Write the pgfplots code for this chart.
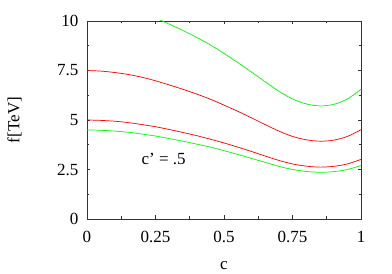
\documentclass[border=0pt]{standalone}
\usepackage{fontspec}
\setmainfont{Liberation Serif}
\newfontfamily\tnr{Liberation Serif}
\usepackage{pgfplots}
\pgfplotsset{compat=1.18}
\definecolor{gpred}{RGB}{255,0,0}
\definecolor{gpgreen}{RGB}{0,255,0}
\begin{document}
\begin{tikzpicture}[font=\tnr\fontsize{17bp}{20bp}\selectfont]
\begin{axis}[
  at={(0,0)}, anchor=south west,
  scale only axis, width=274bp, height=198bp,
  xmin=0, xmax=1, ymin=0, ymax=10,
  xtick={0,0.25,0.5,0.75,1}, xticklabels={0,0.25,0.5,0.75,1},
  ytick={0,2.5,5,7.5,10}, yticklabels={0,2.5,5,7.5,10},
  minor x tick num=1, minor y tick num=1,
  tick align=inside, tick pos=both, ticklabel pos=left,
  major tick length=3.5bp, minor tick length=2.5bp,
  axis line style={black!80, line width=0.8bp},
  every tick/.style={black!80, line width=0.6bp},
  tick label style={font=\tnr\fontsize{17bp}{20bp}\selectfont},
  label style={font=\tnr\fontsize{17bp}{20bp}\selectfont},
  xticklabel style={yshift=-8.5bp},
  yticklabel style={xshift=-5bp},
  xlabel={c}, ylabel={f[TeV]},
  every axis x label/.style={at={(axis description cs:0.5,0)}, yshift=-47bp, anchor=center},
  every axis y label/.style={at={(axis description cs:0,0.5)}, xshift=-72.5bp, rotate=90, anchor=center},
  /pgf/number format/assume math mode=true,
]
% top green
\addplot[gpgreen, line width=0.7bp, smooth] coordinates {
(0.20,10.40) (0.25,10.15) (0.30,9.84) (0.35,9.52) (0.40,9.17) (0.45,8.79)
(0.50,8.36) (0.55,7.90) (0.60,7.42) (0.65,6.93) (0.70,6.45) (0.75,6.06)
(0.80,5.81) (0.85,5.71) (0.90,5.79) (0.95,6.06) (1.00,6.55)};
% upper red
\addplot[gpred, line width=0.7bp, smooth] coordinates {
(0,7.50) (0.05,7.47) (0.10,7.40) (0.15,7.30) (0.20,7.16) (0.25,6.98)
(0.30,6.77) (0.35,6.55) (0.40,6.31) (0.45,6.05) (0.50,5.75) (0.55,5.44)
(0.60,5.11) (0.65,4.77) (0.70,4.44) (0.75,4.17) (0.80,4.00) (0.85,3.93)
(0.90,3.98) (0.95,4.17) (1.00,4.51)};
% lower red
\addplot[gpred, line width=0.7bp, smooth] coordinates {
(0,5.00) (0.05,4.98) (0.10,4.94) (0.15,4.87) (0.20,4.77) (0.25,4.66)
(0.30,4.52) (0.35,4.37) (0.40,4.21) (0.45,4.03) (0.50,3.84) (0.55,3.63)
(0.60,3.41) (0.65,3.18) (0.70,2.96) (0.75,2.78) (0.80,2.67) (0.85,2.62)
(0.90,2.66) (0.95,2.78) (1.00,3.01)};
% lower green
\addplot[gpgreen, line width=0.7bp, smooth] coordinates {
(0,4.50) (0.05,4.48) (0.10,4.44) (0.15,4.38) (0.20,4.29) (0.25,4.19)
(0.30,4.06) (0.35,3.93) (0.40,3.78) (0.45,3.63) (0.50,3.45) (0.55,3.26)
(0.60,3.06) (0.65,2.86) (0.70,2.66) (0.75,2.50) (0.80,2.40) (0.85,2.36)
(0.90,2.39) (0.95,2.50) (1.00,2.70)};
\node[anchor=base, inner sep=0pt] at (axis cs:0.28,2.74) {c’ = .5};
\end{axis}
\pgfresetboundingbox
\path[use as bounding box] (-87bp,-55bp) rectangle (305bp,219bp);
\end{tikzpicture}
\end{document}
